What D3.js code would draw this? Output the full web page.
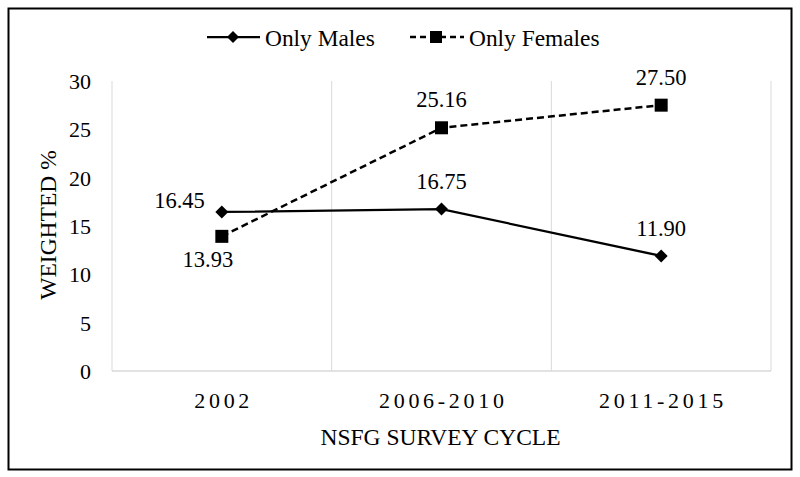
<!DOCTYPE html>
<html><head><meta charset="utf-8">
<script src="https://cdn.jsdelivr.net/npm/d3@7"></script>
<style>body{margin:0;background:#fff}svg{display:block}svg text{font-family:'Liberation Serif','Times New Roman',Tinos,'DejaVu Serif',serif !important;fill:#000}</style>
</head><body>
<svg id="c" width="800" height="477"></svg>
<script>
const categories = ["2002", "2006-2010", "2011-2015"];
const males = [16.45, 16.75, 11.90];
const females = [13.93, 25.16, 27.50];
const yTicks = [0, 5, 10, 15, 20, 25, 30];
const seriesNames = ["Only Males", "Only Females"];
const FF = "'Liberation Serif','Times New Roman',Tinos,'DejaVu Serif',serif";

const svg = d3.select("#c");
svg.append("rect").attr("x",8.5).attr("y",8.5).attr("width",783).attr("height",461)
  .attr("fill","#fff").attr("stroke","#000").attr("stroke-width",2);

const L=112, R=771, T=81, B=371;
const x = d3.scaleBand().domain(categories).range([L,R]);
const y = d3.scaleLinear().domain([0,30]).range([B,T]);
const cx = d => x(d)+x.bandwidth()/2;

const bounds = categories.map(c=>x(c)).concat([R]);
svg.append("g").selectAll("line").data(bounds).join("line")
  .attr("x1",d=>d).attr("x2",d=>d).attr("y1",T).attr("y2",B)
  .attr("stroke","#d9d9d9").attr("stroke-width",1);
svg.append("line").attr("x1",L).attr("x2",R).attr("y1",B).attr("y2",B)
  .attr("stroke","#d9d9d9").attr("stroke-width",1.5);

const yAxis = d3.axisLeft(y).tickValues(yTicks).tickSize(0).tickPadding(0);
const gy = svg.append("g").attr("transform",`translate(${L-21},0)`).call(yAxis);
gy.attr("font-family",FF);
gy.select(".domain").remove();
gy.selectAll("text").attr("font-size",22).style("font-family",FF).attr("fill","#000").attr("dy","0.34em");

const xAxis = d3.axisBottom(x).tickSize(0).tickPadding(0);
const gx = svg.append("g").attr("transform",`translate(0,${408})`).call(xAxis);
gx.attr("font-family",FF);
gx.select(".domain").remove();
gx.selectAll("text").attr("font-size",22).style("font-family",FF).attr("fill","#000")
  .attr("dy",0).attr("letter-spacing","3.7px").attr("dx","1.8px");

svg.append("text").attr("x",(L+R)/2-1).attr("y",445).attr("text-anchor","middle")
  .attr("font-size",23.5).style("font-family",FF).text("NSFG SURVEY CYCLE");
svg.append("text").attr("transform",`translate(56,${225}) rotate(-90)`).attr("text-anchor","middle")
  .attr("font-size",23.5).style("font-family",FF).text("WEIGHTED %");

const line = d3.line().x((d,i)=>cx(categories[i])).y(d=>y(d));
svg.append("path").datum(males).attr("d",line).attr("fill","none").attr("stroke","#000").attr("stroke-width",2.25);
svg.append("path").datum(females).attr("d",line).attr("fill","none").attr("stroke","#000").attr("stroke-width",2.5).attr("stroke-dasharray","7,4");

const diamond = (g,px,py,s) => g.append("path").attr("d",`M${px},${py-s}L${px+s},${py}L${px},${py+s}L${px-s},${py}Z`).attr("fill","#000");
males.forEach((v,i)=>diamond(svg, cx(categories[i]), y(v), 6.5));
svg.append("g").selectAll("rect").data(females).join("rect")
  .attr("x",(d,i)=>cx(categories[i])-6.5).attr("y",d=>y(d)-6.5).attr("width",13).attr("height",13).attr("fill","#000");

const fmt = d3.format(".2f");
const mPos = [{dx:-17,dy:-4,a:"end"},{dx:0,dy:-20,a:"middle"},{dx:0,dy:-20,a:"middle"}];
const fPos = [{dx:-14,dy:31,a:"middle"},{dx:0,dy:-21,a:"middle"},{dx:0,dy:-20,a:"middle"}];
svg.append("g").selectAll("text").data(males).join("text")
  .attr("x",(d,i)=>cx(categories[i])+mPos[i].dx).attr("y",(d,i)=>y(d)+mPos[i].dy)
  .attr("text-anchor",(d,i)=>mPos[i].a).attr("font-size",22.5).style("font-family",FF).text(d=>fmt(d));
svg.append("g").selectAll("text").data(females).join("text")
  .attr("x",(d,i)=>cx(categories[i])+fPos[i].dx).attr("y",(d,i)=>y(d)+fPos[i].dy)
  .attr("text-anchor",(d,i)=>fPos[i].a).attr("font-size",22.5).style("font-family",FF).text(d=>fmt(d));

const lg = svg.append("g");
lg.append("line").attr("x1",207).attr("x2",260).attr("y1",37).attr("y2",37).attr("stroke","#000").attr("stroke-width",2.25);
diamond(lg,233,37,6);
lg.append("text").attr("x",265).attr("y",46).attr("font-size",23.4).style("font-family",FF).text(seriesNames[0]);
lg.append("line").attr("x1",410).attr("x2",464).attr("y1",37).attr("y2",37).attr("stroke","#000").attr("stroke-width",2.5).attr("stroke-dasharray","6,4");
lg.append("rect").attr("x",430).attr("y",31).attr("width",12).attr("height",12).attr("fill","#000");
lg.append("text").attr("x",469).attr("y",46).attr("font-size",23.4).style("font-family",FF).text(seriesNames[1]);
</script>
</body></html>
